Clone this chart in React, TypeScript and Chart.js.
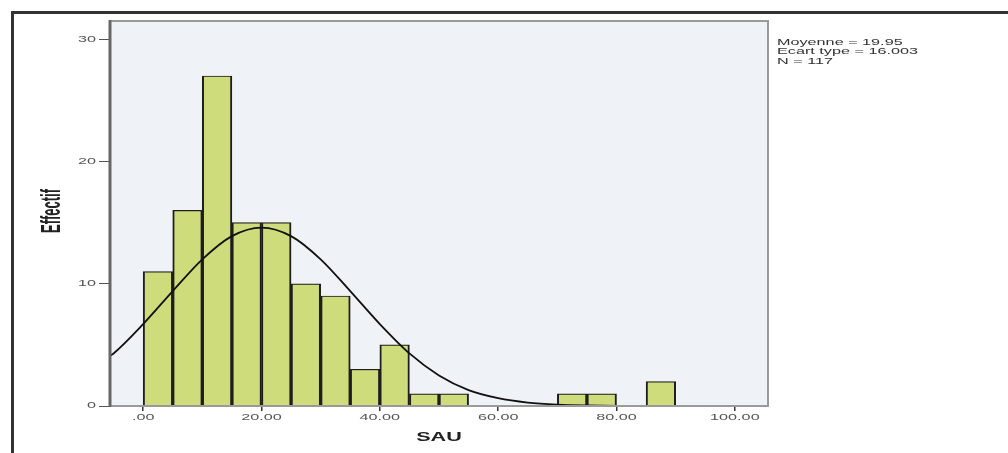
import React, { useEffect, useRef } from "react";
import { Chart, registerables } from "chart.js";

Chart.register(...registerables);

// Histogram bins (width 5), centers and counts
const binCenters = [2.5, 7.5, 12.5, 17.5, 22.5, 27.5, 32.5, 37.5, 42.5, 47.5, 52.5, 72.5, 77.5, 87.5];
const binCounts = [11, 16, 27, 15, 15, 10, 9, 3, 5, 1, 1, 1, 1, 2];

// Normal curve
const curveX = [-5.6, -5, 0, 5, 10, 15, 20, 25, 30, 35, 40, 45, 50, 55, 60, 65, 70, 75, 80, 85, 90, 95, 100, 105.6];
const curveY = [4.1, 4.3, 6.7, 9.4, 12.0, 13.9, 14.6, 13.9, 12.0, 9.4, 6.7, 4.3, 2.5, 1.3, 0.64, 0.28, 0.11, 0.04, 0.01, 0, 0, 0, 0, 0];

const xTickValues = [0, 20, 40, 60, 80, 100];
const xTickLabels = [".00", "20.00", "40.00", "60.00", "80.00", "100.00"];
const yTickValues = [0, 10, 20, 30];
const yTickLabels = ["0", "10", "20", "30"];

const xTitle = "SAU";
const yTitle = "Effectif";
const statLines = ["Moyenne = 19.95", "Ecart type = 16.003", "N = 117"];

const STRETCH = 1.8;
const FAMILY = "'Liberation Sans', Arial, sans-serif";

function drawText(
  ctx: CanvasRenderingContext2D,
  text: string,
  x: number,
  y: number,
  align: CanvasTextAlign,
  baseline: CanvasTextBaseline,
  font: string,
  color: string,
  rotate = false,
  stretch = STRETCH
) {
  ctx.save();
  ctx.translate(x, y);
  ctx.scale(stretch, 1);
  if (rotate) ctx.rotate(-Math.PI / 2);
  ctx.font = font;
  ctx.fillStyle = color;
  ctx.textAlign = align;
  ctx.textBaseline = baseline;
  ctx.fillText(text, 0, 0);
  ctx.restore();
}

const decor = {
  id: "decor",
  beforeDraw(chart: any) {
    const { ctx, chartArea: a } = chart;
    ctx.save();
    ctx.fillStyle = "#ffffff";
    ctx.fillRect(0, 0, chart.width, chart.height);
    ctx.fillStyle = "#eff2f6";
    ctx.fillRect(a.left, a.top, a.right - a.left, a.bottom - a.top);
    ctx.restore();
  },
  afterDatasetsDraw(chart: any) {
    const { ctx, chartArea: a } = chart;
    ctx.save();
    ctx.strokeStyle = "#9a9a9a";
    ctx.lineWidth = 2;
    ctx.strokeRect(a.left, a.top, a.right - a.left, a.bottom - a.top);
    ctx.strokeStyle = "#666666";
    ctx.lineWidth = 3;
    ctx.beginPath();
    ctx.moveTo(a.left, a.top - 1);
    ctx.lineTo(a.left, a.bottom + 1);
    ctx.stroke();
    ctx.restore();
  },
  afterDraw(chart: any) {
    const { ctx, chartArea: a } = chart;
    const xs = chart.scales.x;
    const ys = chart.scales.y;
    const tickFont = `9px ${FAMILY}`;
    xTickValues.forEach((v, i) => {
      drawText(ctx, xTickLabels[i], xs.getPixelForValue(v), 418, "center", "middle", tickFont, "#555", false);
    });
    yTickValues.forEach((v, i) => {
      drawText(ctx, yTickLabels[i], 96, ys.getPixelForValue(v), "right", "middle", tickFont, "#555", false);
    });
    drawText(ctx, xTitle, (a.left + a.right) / 2, 438, "center", "middle", `bold 12px ${FAMILY}`, "#222", false);
    drawText(ctx, yTitle, 52, 211, "center", "middle", `bold 13px ${FAMILY}`, "#222", true, 2.1);
    statLines.forEach((t, i) => {
      drawText(ctx, t, 777, 38 + i * 9.5, "left", "top", `9px ${FAMILY}`, "#333", false);
    });
    ctx.save();
    ctx.strokeStyle = "#333333";
    ctx.lineWidth = 3;
    ctx.strokeRect(12.5, 12.5, 1200, 1000);
    ctx.restore();
  },
};

export default function App() {
  const ref = useRef<HTMLCanvasElement>(null);
  useEffect(() => {
    if (!ref.current) return;
    const chart = new Chart(ref.current, {
      type: "bar",
      data: {
        datasets: [
          {
            type: "line",
            data: curveX.map((x, i) => ({ x, y: curveY[i] })),
            borderColor: "#111111",
            borderWidth: 1.8,
            pointRadius: 0,
            fill: false,
            cubicInterpolationMode: "monotone",
            order: 0,
          } as any,
          {
            type: "bar",
            data: binCenters.map((x, i) => ({ x, y: binCounts[i] })),
            backgroundColor: "#cfdc7c",
            borderColor: "#1e1e1e",
            borderWidth: { top: 1.2, left: 2, right: 2, bottom: 0 },
            barPercentage: 1,
            categoryPercentage: 1,
            order: 1,
          } as any,
        ],
      },
      options: {
        responsive: false,
        animation: false,
        devicePixelRatio: 1,
        layout: { padding: { left: 50, right: 240, top: 21, bottom: 0 } },
        plugins: { legend: { display: false }, tooltip: { enabled: false } },
        scales: {
          x: {
            type: "linear",
            min: -5.6,
            max: 105.6,
            offset: false,
            afterBuildTicks: (s: any) => {
              s.ticks = xTickValues.map((v) => ({ value: v }));
            },
            afterFit: (s: any) => {
              s.height = 47;
            },
            ticks: { display: false },
            grid: { display: true, offset: false, drawOnChartArea: false, drawTicks: true, tickLength: 5, color: "#333", lineWidth: 1.5 },
            border: { display: false },
          },
          y: {
            type: "linear",
            min: 0,
            max: 31.5,
            afterBuildTicks: (s: any) => {
              s.ticks = yTickValues.map((v) => ({ value: v }));
            },
            afterFit: (s: any) => {
              s.width = 60;
            },
            ticks: { display: false },
            grid: { display: true, drawOnChartArea: false, drawTicks: true, tickLength: 11, color: "#555", lineWidth: 1 },
            border: { display: false },
          },
        },
      },
      plugins: [decor],
    });
    return () => chart.destroy();
  }, []);
  return (
    <div style={{ position: "fixed", left: 0, top: 0, width: 1008, height: 453, background: "#fff" }}>
      <canvas ref={ref} width={1008} height={453} style={{ display: "block" }} />
    </div>
  );
}
